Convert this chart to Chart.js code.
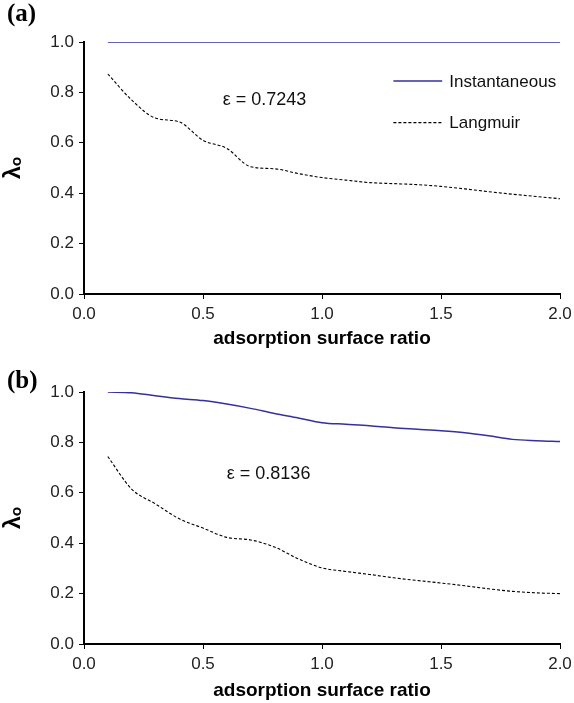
<!DOCTYPE html>
<html>
<head>
<meta charset="utf-8">
<script src="https://cdn.jsdelivr.net/npm/chart.js@4.4.1/dist/chart.umd.min.js"></script>
<style>
  body { margin: 0; background: #fff; }
  .panel { position: relative; width: 574px; height: 351px; }
  .panel.b { height: 352px; }
</style>
</head>
<body>
<div class="panel"><canvas id="grafA"></canvas></div>
<div class="panel b"><canvas id="grafB"></canvas></div>
<script>
// adsorption surface ratio
const ratios = [0.1, 0.2, 0.3, 0.4, 0.5, 0.6, 0.7, 0.8, 0.9, 1.0,
  1.1, 1.2, 1.3, 1.4, 1.5, 1.6, 1.7, 1.8, 1.9, 2.0];

// (a) eps = 0.7243
const instA = [1, 1, 1, 1, 1, 1, 1, 1, 1, 1, 1, 1, 1, 1, 1, 1, 1, 1, 1, 1];
const langA = [0.873, 0.77, 0.698, 0.683, 0.61, 0.578, 0.505, 0.497, 0.478, 0.462,
  0.452, 0.442, 0.438, 0.434, 0.427, 0.417, 0.406, 0.396, 0.387, 0.378];

// (b) eps = 0.8136
const instB = [1.0, 0.997, 0.985, 0.974, 0.966, 0.952, 0.935, 0.915, 0.897, 0.878,
  0.872, 0.866, 0.858, 0.852, 0.846, 0.838, 0.826, 0.812, 0.807, 0.804];
const langB = [0.744, 0.615, 0.556, 0.497, 0.46, 0.423, 0.413, 0.385, 0.338, 0.302,
  0.288, 0.276, 0.263, 0.252, 0.242, 0.231, 0.219, 0.209, 0.203, 0.2];

const xTicks = [0.0, 0.5, 1.0, 1.5, 2.0];
const yTicks = [0.0, 0.2, 0.4, 0.6, 0.8, 1.0];

const azul = '#34309e';
const fuente = "'Liberation Sans', Arial, sans-serif";

function puntos(ys) {
  return ratios.map((x, i) => ({ x: x, y: ys[i] }));
}

// panel letter, epsilon note and (optionally) the legend
const extras = {
  id: 'extras',
  afterDraw(chart, args, opts) {
    const ctx = chart.ctx;
    const sx = chart.scales.x;
    const sy = chart.scales.y;
    ctx.save();
    ctx.fillStyle = '#000';
    ctx.font = "bold 25px 'Liberation Serif', 'Times New Roman', serif";
    ctx.textBaseline = 'middle';
    ctx.textAlign = 'left';
    ctx.fillText('(' + opts.letra + ')', 7, opts.letraY);

    ctx.fillStyle = '#111';
    ctx.font = '18px ' + fuente;
    ctx.fillText(opts.eps, sx.getPixelForValue(opts.epsX), sy.getPixelForValue(opts.epsY));

    if (opts.leyenda) {
      const x0 = sx.getPixelForValue(1.3);
      const x1 = sx.getPixelForValue(1.505);
      const xt = sx.getPixelForValue(1.535);
      const y0 = sy.getPixelForValue(0.845);
      const y1 = sy.getPixelForValue(0.68);
      ctx.lineWidth = 1.4;
      ctx.strokeStyle = azul;
      ctx.beginPath();
      ctx.moveTo(x0, y0);
      ctx.lineTo(x1, y0);
      ctx.stroke();
      ctx.strokeStyle = '#000';
      ctx.lineWidth = 1.1;
      ctx.setLineDash([3, 2]);
      ctx.beginPath();
      ctx.moveTo(x0, y1);
      ctx.lineTo(x1, y1);
      ctx.stroke();
      ctx.setLineDash([]);
      ctx.font = '17px ' + fuente;
      ctx.fillText('Instantaneous', xt, y0 + 1);
      ctx.fillText('Langmuir', xt, y1 + 1);
    }
    ctx.restore();
  }
};

function crearGrafica(id, inst, lang, cfg) {
  return new Chart(document.getElementById(id), {
    type: 'line',
    data: {
      datasets: [
        {
          label: 'Instantaneous',
          data: puntos(inst),
          borderColor: azul,
          borderWidth: 1.5,
          pointRadius: 0,
          cubicInterpolationMode: 'monotone'
        },
        {
          label: 'Langmuir',
          data: puntos(lang),
          borderColor: '#000',
          borderWidth: 1.1,
          borderDash: [3, 2],
          pointRadius: 0,
          cubicInterpolationMode: 'monotone'
        }
      ]
    },
    plugins: [extras],
    options: {
      responsive: true,
      maintainAspectRatio: false,
      animation: false,
      layout: { padding: { top: cfg.top, right: 0, left: 0, bottom: 0 } },
      plugins: {
        legend: { display: false },
        tooltip: { enabled: false },
        extras: cfg.extras
      },
      scales: {
        x: {
          type: 'linear',
          min: 0,
          max: 2,
          afterBuildTicks: (s) => { s.ticks = xTicks.map((v) => ({ value: v })); },
          afterFit: (s) => {
            s.height = cfg.xAlto;
            s.paddingRight = 14;
            s.paddingLeft = 0;
          },
          ticks: {
            color: '#222',
            padding: 5,
            font: { family: fuente, size: 17 },
            callback: (v) => Number(v).toFixed(1)
          },
          grid: { drawOnChartArea: false, drawTicks: true, tickLength: 5, color: '#000', lineWidth: 1 },
          border: { display: true, color: '#000', width: 2 },
          title: {
            display: true,
            text: 'adsorption surface ratio',
            color: '#000',
            font: { family: fuente, size: 19, weight: 'bold' },
            padding: { top: 2, bottom: 1 }
          }
        },
        y: {
          min: 0,
          max: 1,
          afterBuildTicks: (s) => { s.ticks = yTicks.map((v) => ({ value: v })); },
          afterFit: (s) => { s.width = 84; },
          ticks: {
            color: '#222',
            padding: 5,
            font: { family: fuente, size: 17 },
            callback: (v) => Number(v).toFixed(1)
          },
          grid: { drawOnChartArea: false, drawTicks: true, tickLength: 5, color: '#000', lineWidth: 1 },
          border: { display: true, color: '#000', width: 2 },
          title: {
            display: true,
            text: 'λₒ',
            color: '#000',
            font: { family: fuente, size: 23, weight: 'bold' },
            padding: { top: 0, bottom: 0 }
          }
        }
      }
    }
  });
}

crearGrafica('grafA', instA, langA, {
  top: 42,
  xAlto: 57,
  extras: { letra: 'a', letraY: 15, eps: 'ε = 0.7243', epsX: 0.583, epsY: 0.77, leyenda: true }
});

crearGrafica('grafB', instB, langB, {
  top: 41,
  xAlto: 59,
  extras: { letra: 'b', letraY: 31, eps: 'ε = 0.8136', epsX: 0.6, epsY: 0.674, leyenda: false }
});
</script>
</body>
</html>
